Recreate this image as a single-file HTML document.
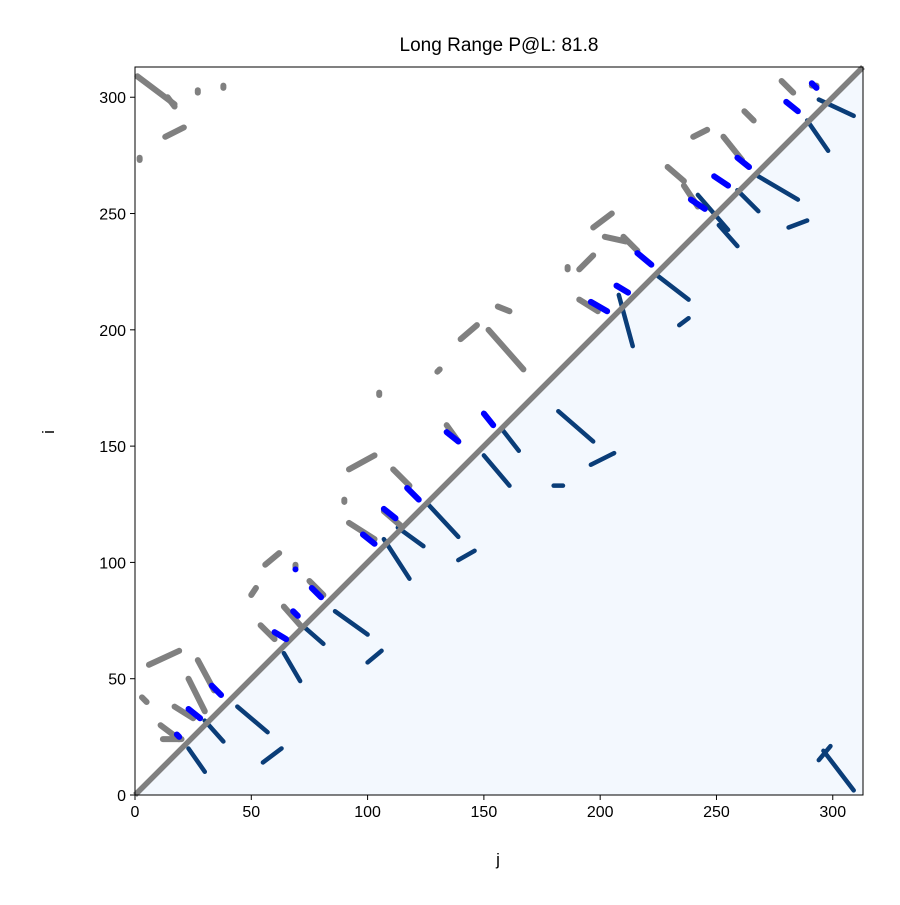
<!DOCTYPE html>
<html><head><meta charset="utf-8"><style>
body{margin:0;background:#fff}
svg text{font-family:"Liberation Sans","DejaVu Sans",sans-serif;fill:#000}
</style></head><body>
<svg id="chart" width="900" height="900" viewBox="0 0 900 900" xmlns="http://www.w3.org/2000/svg">
<rect width="900" height="900" fill="#fff"/>
<text x="499" y="51" font-size="19" text-anchor="middle">Long Range P@L: 81.8</text>
<g id="plot"></g>
<rect x="135" y="67" width="728" height="728" fill="none" stroke="#000" stroke-width="1"/>
<g id="axes"></g>
<text x="498" y="865" font-size="17" text-anchor="middle">j</text>
<text x="54" y="432" font-size="17" text-anchor="middle" transform="rotate(-90 54 432)">i</text>
</svg>
<script>
const L = 313;
const xTicks = [0,50,100,150,200,250,300];
const yTicks = [0,50,100,150,200,250,300];
// predicted contacts (lower triangle) [j1,i1,j2,i2]
const predSegments = [[23,20,30,10],[30,32,38,23],[44,38,57,27],[55,14,63,20],[64,61,71,49],[73,72,81,65],[86,79,100,69],[100,57,106,62],[107,110,118,93],[113,115,124,107],[126,125,139,111],[139,101,146,105],[150,146,161,133],[158,157,165,148],[182,165,197,152],[196,142,206,147],[180,133,184,133],[208,215,214,193],[225,223,238,213],[234,202,238,205],[242,258,255,243],[251,245,259,236],[259,260,268,251],[268,266,285,256],[281,244,289,247],[289,290,298,277],[294,299,309,292],[294,15,299,21],[296,19,309,2]];
// true contacts (upper triangle, gray)
const trueSegments = [[1,309,17,297],[14,300,17,296],[13,283,21,287],[2,273,2,274],[3,42,5,40],[6,56,19,62],[11,30,19,24],[23,50,30,36],[27,58,34,45],[50,86,52,89],[56,99,62,104],[54,73,60,67],[64,81,71,73],[69,98,69,99],[75,92,81,86],[90,126,90,127],[92,117,103,110],[92,140,103,146],[107,122,114,116],[111,140,118,133],[105,172,105,173],[130,182,131,183],[134,159,139,152],[140,196,147,202],[152,200,167,183],[156,210,161,208],[191,213,199,208],[191,226,197,232],[186,226,186,227],[197,244,205,250],[202,240,211,238],[210,240,216,234],[229,270,236,264],[236,262,242,253],[240,283,246,286],[253,283,261,273],[262,294,266,290],[278,307,283,302],[291,305,293,305],[12,24,20,24],[17,38,25,33],[38,304,38,305],[27,302,27,303]];
// correctly predicted long-range contacts (blue)
const hitSegments = [[23,37,28,33],[33,47,37,43],[60,70,65,67],[68,79,70,77],[69,97,69,97],[76,89,80,85],[98,112,103,108],[107,123,112,119],[117,132,122,127],[134,156,139,152],[150,164,154,159],[196,212,203,208],[207,219,212,216],[216,233,222,228],[239,256,245,252],[249,266,255,262],[259,274,264,270],[280,298,285,294],[291,306,293,304],[18,26,19,25]];
const NS='http://www.w3.org/2000/svg';
const x0=135,y0=795,W=728;
const sx=v=>x0+v/L*W, sy=v=>y0-v/L*W;
const plot=document.getElementById('plot'), axes=document.getElementById('axes');
function mk(t,a,p){const e=document.createElementNS(NS,t);for(const k in a)e.setAttribute(k,a[k]);p.appendChild(e);return e;}
const tri=mk('polygon',{points:`${sx(0)},${sy(0)} ${sx(L)},${sy(L)} ${sx(L)},${sy(0)}`,fill:'#f3f8fe'},plot);


predSegments.forEach(s=>{const e=mk('line',{x1:sx(s[0]),y1:sy(s[1]),x2:sx(s[2]),y2:sy(s[3]),stroke:'#0a3d78','stroke-width':4.5,'stroke-linecap':'round'},plot);

});
const d=mk('line',{x1:sx(0),y1:sy(0),x2:sx(L),y2:sy(L),stroke:'#808080','stroke-width':5.5},plot);


trueSegments.forEach(s=>{const e=mk('line',{x1:sx(s[0]),y1:sy(s[1]),x2:sx(s[2]),y2:sy(s[3]),stroke:'#808080','stroke-width':6,'stroke-linecap':'round'},plot);

});
hitSegments.forEach(s=>{const e=mk('line',{x1:sx(s[0]),y1:sy(s[1]),x2:sx(s[2]),y2:sy(s[3]),stroke:'#0000ff','stroke-width':6,'stroke-linecap':'round'},plot);

});
xTicks.forEach(v=>{const l=mk('line',{x1:sx(v),y1:y0,x2:sx(v),y2:y0+5,stroke:'#000'},axes);


const t=mk('text',{x:sx(v),y:y0+22,'font-size':16,'text-anchor':'middle'},axes);t.textContent=v;

});
yTicks.forEach(v=>{const l=mk('line',{x1:x0-5,y1:sy(v),x2:x0,y2:sy(v),stroke:'#000'},axes);


const t=mk('text',{x:x0-9,y:sy(v)+6,'font-size':16,'text-anchor':'end'},axes);t.textContent=v;

});
</script>
</body></html>
